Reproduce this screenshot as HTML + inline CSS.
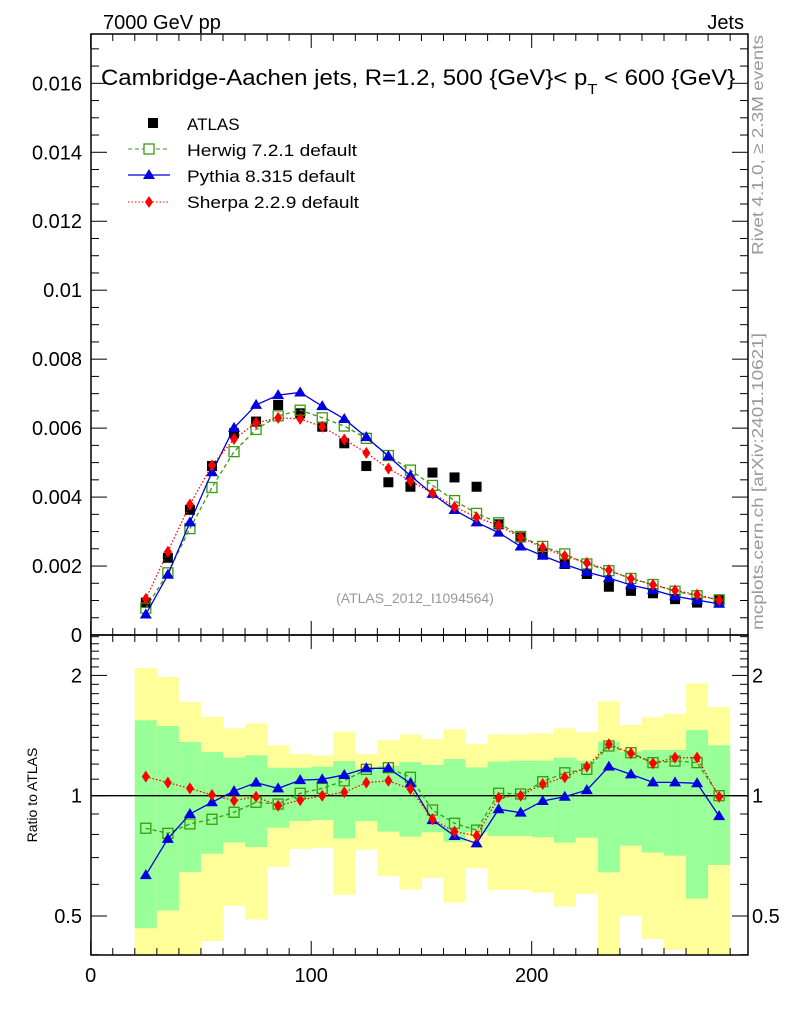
<!DOCTYPE html>
<html><head><meta charset="utf-8"><style>
body{margin:0;background:#fff;}
svg{display:block;font-family:"Liberation Sans",Arial,sans-serif;}
</style></head><body>
<svg id="chart" width="786" height="1024" viewBox="0 0 786 1024">
<g id="bands"></g>
<g id="marks"></g>
<g id="axes"></g>
<text x="103" y="29" font-size="20">7000 GeV pp</text>
<text x="744" y="29" font-size="20" text-anchor="end">Jets</text>
<text transform="translate(101,85) scale(1.09,1)" x="0" y="0" font-size="22">Cambridge-Aachen jets, R=1.2, 500 {GeV}&lt; p<tspan font-size="15" dy="9">T</tspan><tspan dy="-9"> &lt; 600 {GeV}</tspan></text>
<g>
<rect x="148" y="118" width="10" height="10" fill="#000"/>
<text x="187" y="130" font-size="17">ATLAS</text>
<line x1="128" y1="149" x2="170" y2="149" stroke="#3a9a10" stroke-dasharray="4,3"/>
<rect x="144" y="144" width="10" height="10" fill="#fff" stroke="#3a9a10" stroke-width="1.3"/>
<text x="187" y="156" font-size="17" textLength="170" lengthAdjust="spacingAndGlyphs">Herwig 7.2.1 default</text>
<line x1="128" y1="175" x2="170" y2="175" stroke="#0000e0" stroke-width="1.3"/>
<polygon points="149,169 155,179 143,179" fill="#0000e0"/>
<text x="187" y="182" font-size="17" textLength="168" lengthAdjust="spacingAndGlyphs">Pythia 8.315 default</text>
<line x1="128" y1="202" x2="170" y2="202" stroke="#f00" stroke-dasharray="1.5,2"/>
<polygon points="149,196 153,202 149,208 145,202" fill="#f00"/>
<text x="187" y="208" font-size="17" textLength="172" lengthAdjust="spacingAndGlyphs">Sherpa 2.2.9 default</text>
</g>
<text x="415" y="603" font-size="14" fill="#999" text-anchor="middle">(ATLAS_2012_I1094564)</text>
<text transform="translate(763,255) rotate(-90)" font-size="16" fill="#999" textLength="220" lengthAdjust="spacingAndGlyphs">Rivet 4.1.0, ≥ 2.3M events</text>
<text transform="translate(763,630) rotate(-90)" font-size="16" fill="#999" textLength="297" lengthAdjust="spacingAndGlyphs">mcplots.cern.ch [arXiv:2401.10621]</text>
<text transform="translate(37,795) rotate(-90)" font-size="14" text-anchor="middle">Ratio to ATLAS</text>
</svg>
<script>
const centers=[25,35,45,55,65,75,85,95,105,115,125,135,145,155,165,175,185,195,205,215,225,235,245,255,265,275,285];
const atlas=[0.00094,0.00224,0.00363,0.0049,0.00585,0.00619,0.00667,0.00643,0.00604,0.00556,0.0049,0.00443,0.0043,0.00471,0.00457,0.0043,0.00321,0.00283,0.00237,0.00206,0.00177,0.0014,0.00128,0.00121,0.00104,0.00094,0.00102];
const herwigRatio=[0.829,0.805,0.85,0.873,0.909,0.963,0.953,1.014,1.043,1.09,1.164,1.175,1.112,0.921,0.853,0.82,1.014,1.01,1.084,1.141,1.164,1.332,1.281,1.21,1.221,1.21,1.0];
const pythiaRatio=[0.633,0.78,0.90,0.963,1.027,1.078,1.043,1.094,1.099,1.127,1.171,1.171,1.074,0.869,0.793,0.76,0.925,0.907,0.97,0.994,1.033,1.182,1.131,1.08,1.08,1.074,0.889];
const sherpaRatio=[1.116,1.078,1.043,1.004,0.972,0.994,0.944,0.975,1.0,1.02,1.078,1.09,1.039,0.873,0.813,0.794,0.989,1.0,1.07,1.112,1.182,1.345,1.277,1.205,1.245,1.245,0.993];
const yellowHi=[2.087,1.982,1.716,1.573,1.474,1.517,1.337,1.272,1.262,1.446,1.272,1.378,1.424,1.386,1.466,1.347,1.424,1.424,1.432,1.474,1.441,1.722,1.503,1.571,1.601,1.911,1.667];
const greenHi=[1.544,1.494,1.363,1.286,1.245,1.262,1.175,1.175,1.182,1.221,1.164,1.187,1.214,1.194,1.235,1.177,1.217,1.224,1.224,1.245,1.224,1.365,1.289,1.301,1.301,1.460,1.337];
const greenLo=[0.466,0.516,0.644,0.716,0.764,0.744,0.832,0.864,0.869,0.782,0.864,0.813,0.790,0.810,0.767,0.810,0.793,0.793,0.787,0.763,0.785,0.643,0.750,0.721,0.708,0.553,0.671];
const yellowLo=[0.35,0.35,0.35,0.433,0.530,0.490,0.664,0.736,0.741,0.565,0.733,0.628,0.583,0.623,0.540,0.658,0.581,0.581,0.572,0.528,0.568,0.35,0.501,0.438,0.411,0.35,0.35];
const mainTicks=["0","0.002","0.004","0.006","0.008","0.01","0.012","0.014","0.016"];
const xTicks=[0,100,200];
const binW=10;

const NS="http://www.w3.org/2000/svg";
const L=91,R=748,T=34,MB=635,RB=955;
const X=v=>90.7+v*2.205;
const Y=v=>635-v*34480;
const RY=r=>795.7-120.3*Math.log2(r);
function mk(tag,attrs,parent){const e=document.createElementNS(NS,tag);for(const k in attrs)e.setAttribute(k,attrs[k]);parent.appendChild(e);return e;}
const bands=document.getElementById('bands'),marks=document.getElementById('marks'),axes=document.getElementById('axes');
const clipR=v=>Math.min(RY(Math.max(v,0.35)),RB);
centers.forEach((c,i)=>{
 const x0=X(c-binW/2),w=X(c+binW/2)-x0;
 let y1=Math.max(RY(yellowHi[i]),MB),y2=clipR(yellowLo[i]);
 let e=mk('rect',{x:x0,y:y1,width:w,height:y2-y1,fill:'#ffff99'},bands);
 
 
 y1=RY(greenHi[i]);y2=clipR(greenLo[i]);
 e=mk('rect',{x:x0,y:y1,width:w,height:y2-y1,fill:'#99ff99'},bands);
 
 
});
let ln=mk('line',{x1:L,y1:RY(1),x2:R,y2:RY(1),stroke:'#000','stroke-width':1.3},bands);



function series(vals,ratio,color,dash,shape,name){
 const pm=vals.map((v,i)=>[X(centers[i]),Y(v)]);
 const pr=ratio.map((r,i)=>[X(centers[i]),RY(r)]);
 [pm,pr].forEach((pts,k)=>{
  const p=mk('polyline',{points:pts.map(p=>p.join(',')).join(' '),fill:'none',stroke:color,'stroke-width':1.3,'stroke-dasharray':dash},marks);
  
  
  pts.forEach(([x,y])=>{
   let m;
   if(shape==='sq') m=mk('rect',{x:x-5,y:y-5,width:10,height:10,fill:'#fff','fill-opacity':0,stroke:color,'stroke-width':1.3},marks);
   else if(shape==='tri') m=mk('polygon',{points:`${x},${y-6} ${x+6},${y+4} ${x-6},${y+4}`,fill:color},marks);
   else m=mk('polygon',{points:`${x},${y-6} ${x+4},${y} ${x},${y+6} ${x-4},${y}`,fill:color},marks);
   
   
  });
 });
}
atlas.forEach((v,i)=>{const e=mk('rect',{x:X(centers[i])-5,y:Y(v)-5,width:10,height:10,fill:'#000'},marks);
 
 });
series(atlas.map((a,i)=>a*herwigRatio[i]),herwigRatio,'#3a9a10','4,3','sq','herwig');
series(atlas.map((a,i)=>a*pythiaRatio[i]),pythiaRatio,'#0000e0','','tri','pythia');
series(atlas.map((a,i)=>a*sherpaRatio[i]),sherpaRatio,'#ff0000','1.5,2','dia','sherpa');

[[T,MB],[MB,RB]].forEach(([a,b],k)=>{const f=mk('rect',{x:L,y:a,width:R-L,height:b-a,fill:'none',stroke:'#000','stroke-width':1.5},axes);
 
 });
for(let v=0;v<=290;v+=10){const x=X(v);const maj=v%100===0;
 [[T,1],[MB,-1],[MB,1],[RB,-1]].forEach(([y,d])=>{mk('line',{x1:x,y1:y,x2:x,y2:y+d*(maj?14:7),stroke:'#000'},axes);});}
xTicks.forEach(v=>{const t=mk('text',{x:X(v),y:982,'font-size':20,'text-anchor':'middle'},axes);t.textContent=v;
 
 });
for(let i=0;i<=37;i++){const v=i*0.0005,y=Y(v);if(y<T)break;const maj=i%4===0;
 mk('line',{x1:L,y1:y,x2:L+(maj?16:8),y2:y,stroke:'#000'},axes);
 mk('line',{x1:R,y1:y,x2:R-(maj?16:8),y2:y,stroke:'#000'},axes);}
mainTicks.forEach((s,i)=>{const t=mk('text',{x:82,y:Y(i*0.002)+7,'font-size':20,'text-anchor':'end'},axes);t.textContent=s;
 
 });
[0.4,0.5,0.6,0.7,0.8,0.9,1,1.1,1.2,1.3,1.4,1.5,1.6,1.7,1.8,1.9,2,2.1,2.2,2.3,2.4,2.5].forEach(r=>{const y=RY(r);if(y<MB||y>RB)return;const maj=(r===0.5||r===1||r===2);
 mk('line',{x1:L,y1:y,x2:L+(maj?16:8),y2:y,stroke:'#000'},axes);
 mk('line',{x1:R,y1:y,x2:R-(maj?16:8),y2:y,stroke:'#000'},axes);});
[["0.5",0.5],["1",1],["2",2]].forEach(([s,r])=>{[[82,'end'],[752,'start']].forEach(([x,a])=>{const t=mk('text',{x:x,y:RY(r)+7,'font-size':20,'text-anchor':a},axes);t.textContent=s;
 
 });});
</script>
</body></html>
